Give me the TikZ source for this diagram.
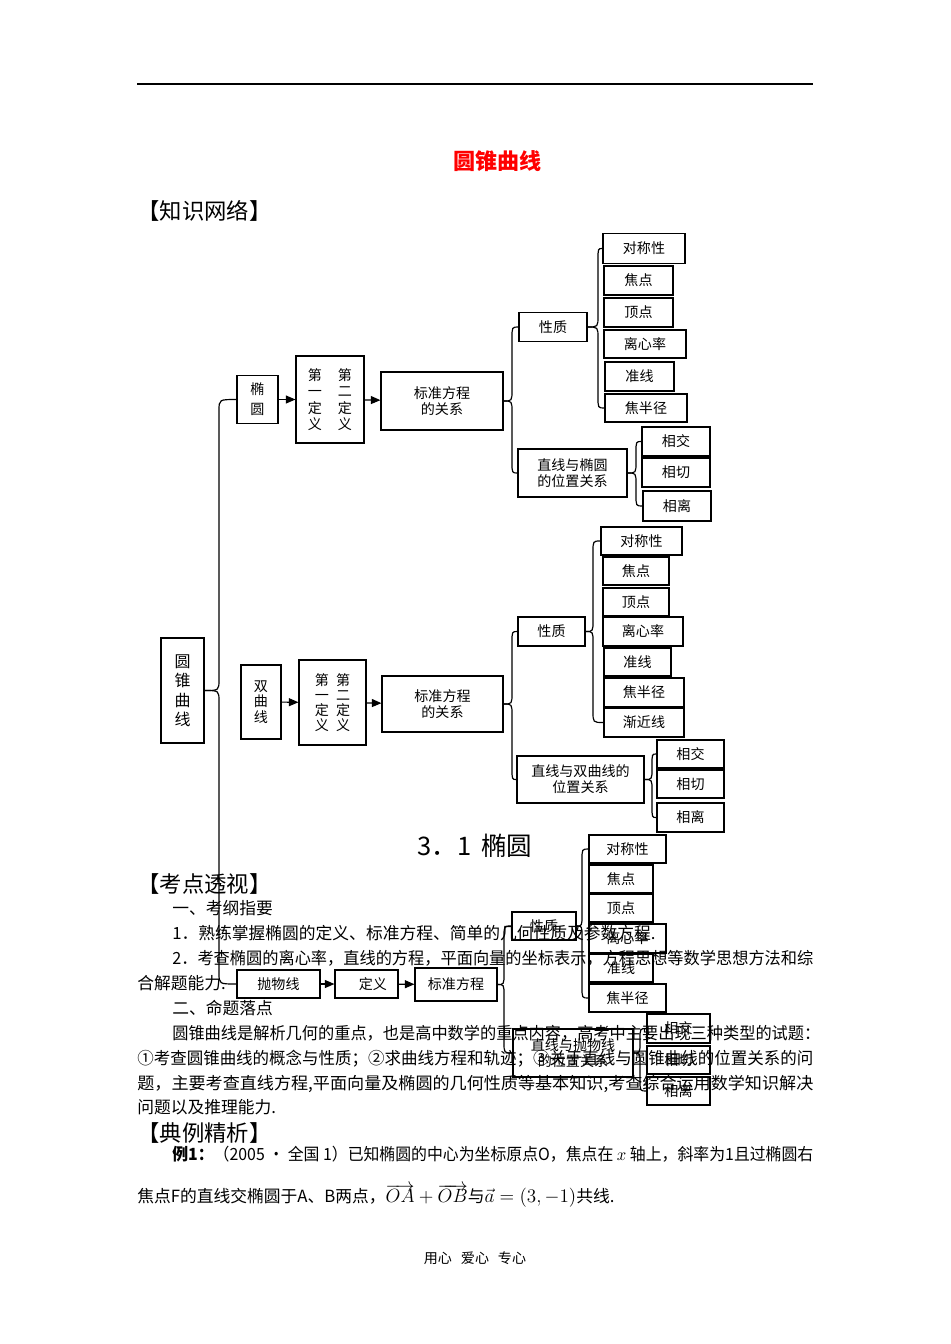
\documentclass[tikz,border=0pt]{standalone}
\usepackage{fontspec}
\setmainfont{Noto Sans CJK SC}
\usepackage{graphicx}
\usetikzlibrary{arrows.meta,calc}

\newdimen\pxd
\pxd=0.6264pt
% one text line, set to a width given in pixels
\newcommand{\jline}[2]{\resizebox{#1\pxd}{\height}{#2}}
% half of a curly brace, from a box to one of its children
\newcommand{\bracelink}[3]{%
  \draw[brace] (#1.east) .. controls (#3 |- #1.east) .. ($(#3 |- #1.east)!7pt!(#3 |- #2.west)$)
    -- ($(#3 |- #2.west)!7pt!(#3 |- #1.east)$) .. controls (#3 |- #2.west) .. (#2.west);}

\tikzset{
  box/.style={draw, line width=0.7pt, inner sep=1pt, align=center,
    font=\fontsize{8.8}{10}\selectfont},
  sz/.style 2 args={minimum width=#1*0.6264pt, minimum height=#2*0.6264pt},
  brace/.style={line width=0.75pt},
  txt/.style={anchor=base west, inner sep=0pt, font=\fontsize{10.5}{12}\selectfont},
  head/.style={anchor=base west, inner sep=0pt, font=\fontsize{14}{16}\selectfont},
}

\begin{document}
\begin{tikzpicture}[x=0.6264pt,y=-0.6264pt]

        \path[fill=white] (0,0) rectangle (950,1344);
        \draw[line width=0.8pt] (137,84) -- (813,84);

        \node[font=\fontsize{13.8}{16}\selectfont\bfseries, text=red] (title) at (497.5,161) {圆锥曲线};
        \node[head] (net) at (137,219.5) {【知识网络】};

        \begin{scope}[every node/.style={box}]
          \node[sz={43}{105}, font=\fontsize{10}{12.2}\selectfont] (c) at (182.5,690.5) {圆\\锥\\曲\\线};

          % ellipse
          \node[sz={41}{48}, font=\fontsize{8.8}{12.5}\selectfont] (e1) at (257.5,399.5) {椭\\圆};
          \node[sz={68}{87}, font=\fontsize{8.8}{10.2}\selectfont] (e2) at (330,399.5)
            {第\hspace{10pt}第\\一\hspace{10pt}二\\定\hspace{10pt}定\\义\hspace{10pt}义};
          \node[sz={122}{58}] (e3) at (442,401) {标准方程\\的关系};
          \node[sz={68}{29}] (e4) at (553,327) {性质};
          \node[sz={109}{48}] (e5) at (572.5,473) {直线与椭圆\\的位置关系};
          \node[sz={82}{30}] (ep1) at (644,248.5) {对称性};
          \node[sz={69}{29}] (ep2) at (638.5,280.5) {焦点};
          \node[sz={69}{29}] (ep3) at (638.5,312.5) {顶点};
          \node[sz={82}{28}] (ep4) at (645,344) {离心率};
          \node[sz={69}{29}] (ep5) at (639.5,376.5) {准线};
          \node[sz={82}{28}] (ep6) at (646,408) {焦半径};
          \node[sz={68}{29}] (er1) at (676,441.5) {相交};
          \node[sz={68}{29}] (er2) at (676,472.5) {相切};
          \node[sz={68}{30}] (er3) at (677,506) {相离};

          % hyperbola
          \node[sz={40}{74}, font=\fontsize{8.8}{9.6}\selectfont] (h1) at (261,702) {双\\曲\\线};
          \node[sz={67}{85}, font=\fontsize{8.8}{9.4}\selectfont] (h2) at (332.5,702.5)
            {第\hspace{4.4pt}第\\一\hspace{4.4pt}二\\定\hspace{4.4pt}定\\义\hspace{4.4pt}义};
          \node[sz={121}{56}] (h3) at (442.5,704) {标准方程\\的关系};
          \node[sz={67}{29}] (h4) at (551.5,631.5) {性质};
          \node[sz={127}{47}] (h5) at (580.5,779.5) {直线与双曲线的\\位置关系};
          \node[sz={81}{28}] (hp1) at (641.5,541) {对称性};
          \node[sz={66}{28}] (hp2) at (636,571) {焦点};
          \node[sz={66}{28}] (hp3) at (636,602) {顶点};
          \node[sz={80}{29}] (hp4) at (643,631.5) {离心率};
          \node[sz={67}{28}] (hp5) at (637.5,662) {准线};
          \node[sz={80}{29}] (hp6) at (644,692.5) {焦半径};
          \node[sz={80}{29}] (hp7) at (644,722.5) {渐近线};
          \node[sz={67}{28}] (hr1) at (690.5,754) {相交};
          \node[sz={67}{28}] (hr2) at (690.5,784) {相切};
          \node[sz={67}{29}] (hr3) at (690.5,817.5) {相离};

          % parabola
          \node[sz={83}{28}] (p1) at (278.5,984) {抛物线};
          \node[sz={63}{28}] (p2) at (366.5,984) {\hspace*{8pt}定义};
          \node[sz={82}{33}] (p3) at (456,984.5) {标准方程};
          \node[sz={64}{28}] (p4) at (544,926) {性质};
          \node[sz={120}{48}] (p5) at (573,1053) {直线与抛物线\\的位置关系};
          \node[sz={77}{28}] (pp1) at (627.5,849) {对称性};
          \node[sz={64}{28}] (pp2) at (621,879) {焦点};
          \node[sz={64}{28}] (pp3) at (621,908) {顶点};
          \node[sz={77}{29}] (pp4) at (627.5,938.5) {离心率};
          \node[sz={64}{28}] (pp5) at (621,968) {准线};
          \node[sz={77}{28}] (pp6) at (627.5,998) {焦半径};
          \node[sz={63}{29}] (pr1) at (678.5,1028.5) {相交};
          \node[sz={63}{28}] (pr2) at (678.5,1060) {相切};
          \node[sz={63}{28}] (pr3) at (678.5,1091) {相离};
        \end{scope}

        \begin{scope}[every edge/.style={draw, line width=0.7pt, -{Triangle[length=6pt,width=5pt]}}]
          \path (e1) edge (e2);
          \path (e2) edge (e3);
          \path (h1) edge (h2);
          \path (h2) edge (h3);
          \path (p1) edge (p2);
          \path (p2) edge (p3);
        \end{scope}

        % braces
        \coordinate (xb0) at (219,0);
        \coordinate (xe3) at (512,0);
        \coordinate (xe4) at (598,0);
        \coordinate (xe5) at (636,0);
        \coordinate (xh3) at (512,0);
        \coordinate (xh4) at (593,0);
        \coordinate (xh5) at (652,0);
        \coordinate (xp3) at (504,0);
        \coordinate (xp4) at (582,0);
        \coordinate (xp5) at (640,0);
        \bracelink{c}{e1}{xb0}  \bracelink{c}{p1}{xb0}
        \bracelink{e3}{e4}{xe3} \bracelink{e3}{e5}{xe3}
        \bracelink{e4}{ep1}{xe4} \bracelink{e4}{ep6}{xe4}
        \bracelink{e5}{er1}{xe5} \bracelink{e5}{er3}{xe5}
        \bracelink{h3}{h4}{xh3} \bracelink{h3}{h5}{xh3}
        \bracelink{h4}{hp1}{xh4} \bracelink{h4}{hp7}{xh4}
        \bracelink{h5}{hr1}{xh5} \bracelink{h5}{hr3}{xh5}
        \bracelink{p3}{p4}{xp3} \bracelink{p3}{p5}{xp3}
        \bracelink{p4}{pp1}{xp4} \bracelink{p4}{pp6}{xp4}
        \bracelink{p5}{pr1}{xp5} \bracelink{p5}{pr3}{xp5}

        % text of the page
        \node[font=\fontsize{16}{18}\selectfont] (sec) at (475,846) {3．1\hspace{6pt}椭圆};
        \node[head] (kd) at (137,892) {【考点透视】};
        \begin{scope}[every node/.style={txt}]
          \node (t1) at (172,914.5) {一、考纲指要};
          \node (t2) at (172,939.5) {1．熟练掌握椭圆的定义、标准方程、简单的几何性质及参数方程.};
          \node (t3) at (172,964.5) {\jline{641}{2．考查椭圆的离心率，直线的方程，平面向量的坐标表示，方程思想等数学思想方法和综}};
          \node (t4) at (137,989.5) {合解题能力.};
          \node (t5) at (172,1014.5) {二、命题落点};
          \node (t6) at (172,1039.5) {\jline{648}{圆锥曲线是解析几何的重点，也是高中数学的重点内容，高考中主要出现三种类型的试题：}};
          \node (t7) at (137,1064.5) {\jline{676}{①考查圆锥曲线的概念与性质；②求曲线方程和轨迹；③关于直线与圆锥曲线的位置关系的问}};
          \node (t8) at (137,1089.5) {\jline{676}{题，主要考查直线方程,平面向量及椭圆的几何性质等基本知识,考查综合运用数学知识解决}};
          \node (t9) at (137,1113.5) {问题以及推理能力.};
          \node (x1) at (172,1160.5) {\jline{641}{\textbf{例1：}（2005 • 全国 1）已知椭圆的中心为坐标原点O，焦点在 $x$ 轴上，斜率为1且过椭圆右}};
          \node (x2) at (137,1202.5) {焦点F的直线交椭圆于A、B两点，{\fontsize{12}{14}\selectfont$\overrightarrow{OA}+\overrightarrow{OB}$}与{\fontsize{12}{14}\selectfont$\vec{a}=(3,-1)$}共线.};
        \end{scope}
        \node[head] (dl) at (137,1141) {【典例精析】};
        \node[font=\fontsize{8.8}{10}\selectfont] (foot) at (475,1258) {用心\hspace{5.6pt}爱心\hspace{5.6pt}专心};

      \end{tikzpicture}
\end{document}
